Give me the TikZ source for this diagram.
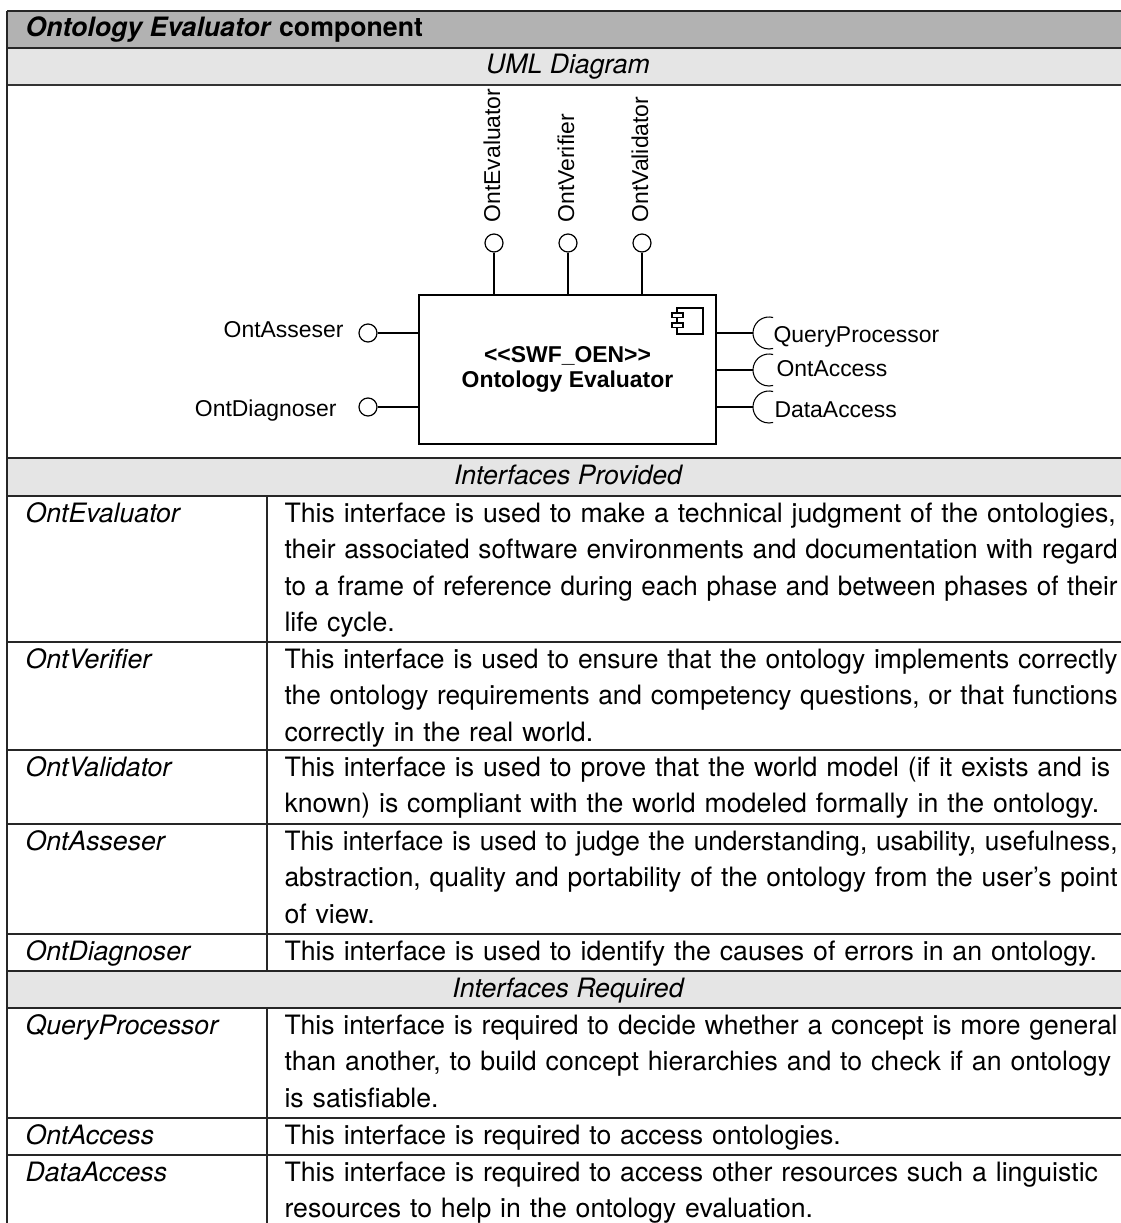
\documentclass[tikz,border=0pt]{standalone}
\usepackage{fontspec}
\usepackage{graphicx}
\setmainfont{TeX Gyre Heros}
\newfontfamily\umlsans{Liberation Sans}
\newcommand{\tabfont}{\fontsize{10}{13.7}\selectfont}
\newcommand{\umlfont}{\umlsans\fontsize{8.6}{9.4}\selectfont}
% one justified line of a description cell, squeezed a little if too long
\newsavebox{\linebox}
\newcommand{\fullline}[1]{\sbox{\linebox}{#1}%
  \ifdim\wd\linebox>312.4pt\resizebox{312.4pt}{\height}{\usebox{\linebox}}%
  \else\makebox[312.4pt][s]{#1}\fi\\}

\begin{document}
\begin{tikzpicture}[x=0.375pt,y=0.375pt,
  every node/.style={inner sep=0pt},
  tabrule/.style={draw=black!85,line width=0.45pt},
  ifname/.style={anchor=base west,font=\tabfont\itshape},
  ifdesc/.style={anchor=north west,align=left,text width=312.4pt,font=\tabfont},
  band/.style={anchor=base,font=\tabfont\itshape},
  prov/.style={circle,draw,line width=0.45pt,minimum size=6.75pt},
  lbl/.style={font=\umlfont},
  comp/.style={draw,line width=0.6pt,minimum width=111.4pt,minimum height=55.9pt,align=center,font=\umlfont\bfseries}]
	\useasboundingbox (0,0) rectangle (1121,-1223);
	\fill[white] (0,0) rectangle (1121,-1223);

	% grey bands
	\fill[black!30] (7,-11) rectangle (1121,-48);
	\foreach \a/\b in {48/85,458/496,971/1008} {
	\fill[black!10] (7,-\a) rectangle (1121,-\b);
	}

	% rules
	\foreach \y in {11,48,458,496,642,750,824,934,971,1008,1118,1155} {
	\draw[tabrule] (7,-\y) -- (1121,-\y);
	}
	\draw[tabrule,line width=0.9pt,draw=black!80] (7,-85) -- (1121,-85);
	\draw[tabrule] (7,-11) -- (7,-1223);
	\draw[tabrule] (267,-496) -- (267,-971);
	\draw[tabrule] (267,-1008) -- (267,-1223);

	\node[anchor=base west,font=\tabfont\bfseries] (title) at (25,-37) {\textit{Ontology Evaluator} component};
	\node[band] (umlhd) at (568,-74) {UML Diagram};
	\node[band] (provhd) at (568,-484) {Interfaces Provided};
	\node[band] (reqhd) at (568,-997) {Interfaces Required};

	% component
	\node[comp] (oen) at (567.5,-369.5) {<\kern0pt<SWF\_OEN>\kern0pt>\\Ontology Evaluator};
	\draw (677,-308) rectangle (703,-334);
	\draw[fill=white] (672,-313) rectangle (683,-317.5);
	\draw[fill=white] (672,-323) rectangle (683,-327.5);

	% provided interfaces
	\foreach \x/\n/\t in {494/ev/OntEvaluator,568/ve/OntVerifier,642/va/OntValidator} {
	\node[prov] (\n) at (\x,-243) {};
	\draw (\n.south) -- (\n.south |- oen.north);
	\node[lbl,rotate=90,anchor=west] (\n-lbl) at (\x-2,-223) {\t};
	}
	\node[prov] (as) at (368,-333) {};
	\draw (as.east) -- (as.east -| oen.west);
	\node[lbl,anchor=base east] (as-lbl) at (344,-338) {OntAsseser};
	\node[prov] (di) at (368,-407) {};
	\draw (di.east) -- (di.east -| oen.west);
	\node[lbl,anchor=base east] (di-lbl) at (337,-416) {OntDiagnoser};

	% required interfaces
	\foreach \y/\n/\t/\lx/\ly in {333/qp/QueryProcessor/773/343,370/oa/OntAccess/776/376,407/da/DataAccess/774/417} {
	\coordinate (\n) at (753,-\y);
	\draw (\n -| oen.east) -- (\n);
	\draw (\n) ++(16,0) ++(75:16) arc (75:285:16);
	\node[lbl,anchor=base west] (\n-lbl) at (\lx,-\ly) {\t};
	}

	% interfaces provided
	\node[ifname] (ev-n) at (25,-522) {OntEvaluator};
	\node[ifdesc] (ev-d) at (284,-496) {\strut\fullline{This interface is used to make a technical judgment of the ontologies,}\fullline{their associated software environments and documentation with regard}\fullline{to a frame of reference during each phase and between phases of their}life cycle.};
	\node[ifname] (ve-n) at (25,-668) {OntVerifier};
	\node[ifdesc] (ve-d) at (284,-642) {\strut\fullline{This interface is used to ensure that the ontology implements correctly}\fullline{the ontology requirements and competency questions, or that functions}correctly in the real world.};
	\node[ifname] (va-n) at (25,-776) {OntValidator};
	\node[ifdesc] (va-d) at (284,-750) {\strut\fullline{This interface is used to prove that the world model (if it exists and is}known) is compliant with the world modeled formally in the ontology.};
	\node[ifname] (as-n) at (25,-850) {OntAsseser};
	\node[ifdesc] (as-d) at (284,-824) {\strut\fullline{This interface is used to judge the understanding, usability, usefulness,}\fullline{abstraction, quality and portability of the ontology from the user’s point}of view.};
	\node[ifname] (di-n) at (25,-960) {OntDiagnoser};
	\node[ifdesc] (di-d) at (284,-934) {\strut This interface is used to identify the causes of errors in an ontology.};

	% interfaces required
	\node[ifname] (qp-n) at (25,-1034) {QueryProcessor};
	\node[ifdesc] (qp-d) at (284,-1008) {\strut\fullline{This interface is required to decide whether a concept is more general}\fullline{than another, to build concept hierarchies and to check if an ontology}is satisfiable.};
	\node[ifname] (oa-n) at (25,-1144) {OntAccess};
	\node[ifdesc] (oa-d) at (284,-1118) {\strut This interface is required to access ontologies.};
	\node[ifname] (da-n) at (25,-1181) {DataAccess};
	\node[ifdesc] (da-d) at (284,-1155) {\strut\fullline{This interface is required to access other resources such a linguistic}resources to help in the ontology evaluation.};
	\end{tikzpicture}
\end{document}
